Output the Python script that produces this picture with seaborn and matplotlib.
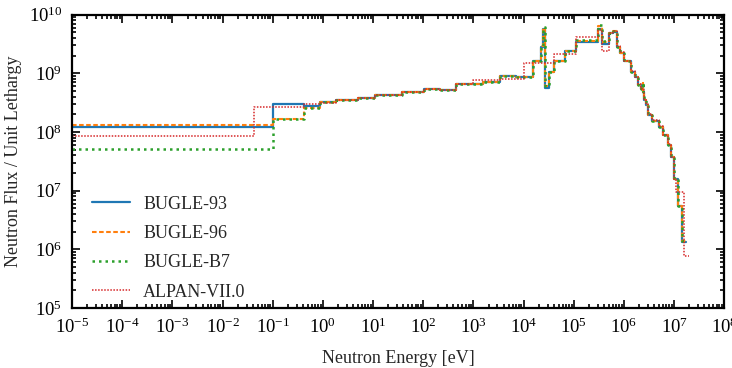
import numpy as np
import pandas as pd
import seaborn as sns
import matplotlib.pyplot as plt
from matplotlib.ticker import LogLocator, NullFormatter

# 47-group BUGLE energy boundaries [eV]
edges_bugle = [1e-5, 0.1, 0.414, 0.8764, 1.855, 5.044, 10.68, 37.27, 101.3, 214.5,
               454.0, 1585, 3355, 7102, 1.503e4, 2.188e4, 2.418e4, 2.606e4, 3.183e4, 4.087e4,
               6.738e4, 1.111e5, 1.832e5, 2.972e5, 3.688e5, 4.979e5, 6.081e5, 7.427e5, 8.208e5, 1.003e6,
               1.353e6, 1.653e6, 1.921e6, 2.231e6, 2.346e6, 2.365e6, 2.466e6, 2.725e6, 3.012e6, 3.679e6,
               4.966e6, 6.065e6, 7.408e6, 8.607e6, 1.0e7, 1.221e7, 1.419e7, 1.733e7]

# flux per unit lethargy, one value per group (low -> high energy)
bugle93 = [1.2e8, 2.95e8, 2.75e8, 3.2e8, 3.5e8, 3.8e8, 4.3e8, 4.9e8, 5.4e8, 5.3e8,
           6.5e8, 7.2e8, 8.9e8, 8.7e8, 1.6e9, 2.8e9, 5.6e9, 5.7e8, 1.07e9, 1.6e9,
           2.4e9, 3.45e9, 3.45e9, 5.7e9, 3.2e9, 4.8e9, 5.1e9, 2.8e9, 2.2e9, 1.6e9,
           1.07e9, 8.7e8, 6.3e8, 5.5e8, 6.3e8, 4.8e8, 3.5e8, 2.9e8, 1.95e8, 1.55e8,
           1.23e8, 8.9e7, 6.0e7, 3.8e7, 1.6e7, 5.4e6, 1.35e6]
bugle96 = [1.3e8, 1.7e8, 2.6e8, 3.2e8, 3.5e8, 3.8e8, 4.3e8, 4.9e8, 5.4e8, 5.3e8,
           6.5e8, 7.2e8, 8.9e8, 8.7e8, 1.6e9, 2.9e9, 5.9e9, 6.0e8, 1.07e9, 1.6e9,
           2.4e9, 3.6e9, 3.6e9, 6.5e9, 3.4e9, 4.9e9, 5.2e9, 2.8e9, 2.2e9, 1.6e9,
           1.07e9, 8.7e8, 6.3e8, 5.5e8, 6.8e8, 4.8e8, 3.5e8, 2.9e8, 1.95e8, 1.55e8,
           1.23e8, 8.9e7, 6.0e7, 3.8e7, 1.6e7, 5.4e6, 1.4e6]
bugleb7 = [5.1e7, 1.7e8, 2.6e8, 3.2e8, 3.5e8, 3.8e8, 4.3e8, 4.9e8, 5.4e8, 5.3e8,
           6.5e8, 7.2e8, 8.9e8, 8.7e8, 1.6e9, 2.9e9, 6.2e9, 6.2e8, 1.07e9, 1.6e9,
           2.4e9, 3.7e9, 3.7e9, 6.8e9, 3.5e9, 4.9e9, 5.2e9, 2.8e9, 2.2e9, 1.6e9,
           1.07e9, 8.7e8, 6.3e8, 5.5e8, 7.2e8, 4.8e8, 3.5e8, 2.9e8, 1.95e8, 1.55e8,
           1.23e8, 8.9e7, 6.0e7, 3.8e7, 1.6e7, 5.4e6, 1.4e6]

edges_alpan = [1e-5, 0.0414, 0.414, 0.8764, 1.855, 5.044, 10.68, 37.27, 101.3, 214.5,
               454.0, 1000, 3355, 1e4, 4.087e4, 1.111e5, 2.972e5, 3.688e5, 4.979e5, 6.081e5,
               7.427e5, 8.208e5, 1.003e6, 1.353e6, 1.653e6, 1.921e6, 2.231e6, 2.466e6, 2.725e6, 3.012e6,
               3.679e6, 4.966e6, 6.065e6, 7.408e6, 8.607e6, 1.0e7, 1.1e7, 1.6e7, 2.0e7]
alpan = [8.5e7, 2.65e8, 2.95e8, 3.15e8, 3.5e8, 3.8e8, 4.3e8, 4.9e8, 5.4e8, 5.3e8,
         6.5e8, 7.6e8, 8.1e8, 1.5e9, 2.1e9, 4.1e9, 5.5e9, 2.4e9, 4.9e9, 5.3e9,
         2.9e9, 2.3e9, 1.65e9, 1.1e9, 8.8e8, 6.5e8, 5.4e8, 3.6e8, 3.0e8, 2.0e8,
         1.6e8, 1.25e8, 9.0e7, 6.2e7, 3.8e7, 1.6e7, 9.5e6, 7.8e5]

series = [
    ('BUGLE-93', edges_bugle, bugle93, '#1f77b4', '-', 1.6),
    ('BUGLE-96', edges_bugle, bugle96, '#ff7f0e', (0, (2.2, 1.2)), 1.5),
    ('BUGLE-B7', edges_bugle, bugleb7, '#2ca02c', (0, (1, 1.6)), 1.8),
    ('ALPAN-VII.0', edges_alpan, alpan, '#d62728', (0, (1, 1)), 1.1),
]

sns.set_style('ticks')
plt.rcParams['font.family'] = ['Liberation Serif', 'DejaVu Serif']
plt.rcParams['mathtext.fontset'] = 'custom'
plt.rcParams['mathtext.rm'] = 'Liberation Serif'
plt.rcParams['mathtext.it'] = 'Liberation Serif'
plt.rcParams['mathtext.default'] = 'regular'
plt.rcParams['axes.unicode_minus'] = False

fig = plt.figure(figsize=(7.32, 3.68), dpi=100)
ax = fig.add_axes([0.0985, 0.163, 0.891, 0.797])

for name, edges, vals, color, ls, lw in series:
    # step histogram: repeat last value so the final bin closes at its upper edge
    df = pd.DataFrame({'energy': edges, 'flux': list(vals) + [vals[-1]]})
    sns.lineplot(data=df, x='energy', y='flux', ax=ax, estimator=None, sort=False,
                 drawstyle='steps-post', color=color, linestyle=ls, lw=lw, label=name)

ax.set_xscale('log')
ax.set_yscale('log')
ax.set_xlim(1e-5, 1e8)
ax.set_ylim(1e5, 1e10)

for axis in (ax.xaxis, ax.yaxis):
    axis.set_major_locator(LogLocator(base=10, numticks=30))
    axis.set_minor_locator(LogLocator(base=10, subs=np.arange(2, 10), numticks=300))
    axis.set_minor_formatter(NullFormatter())

ax.tick_params(which='both', direction='in', top=True, right=True, width=1.2,
               labelsize=13.5, colors='black')
ax.tick_params(which='major', length=6, pad=7)
ax.tick_params(which='minor', length=3)
for sp in ax.spines.values():
    sp.set_linewidth(1.6)
    sp.set_color('black')

ax.set_xlabel('Neutron Energy [eV]', fontsize=13, labelpad=9)
ax.set_ylabel('Neutron Flux / Unit Lethargy', fontsize=13, labelpad=5)

ax.legend(loc='lower left', bbox_to_anchor=(0.005, -0.03), frameon=False, fontsize=13,
          handlelength=2.1, handletextpad=0.75, labelspacing=0.68)

fig.savefig('out.png', dpi=100)
